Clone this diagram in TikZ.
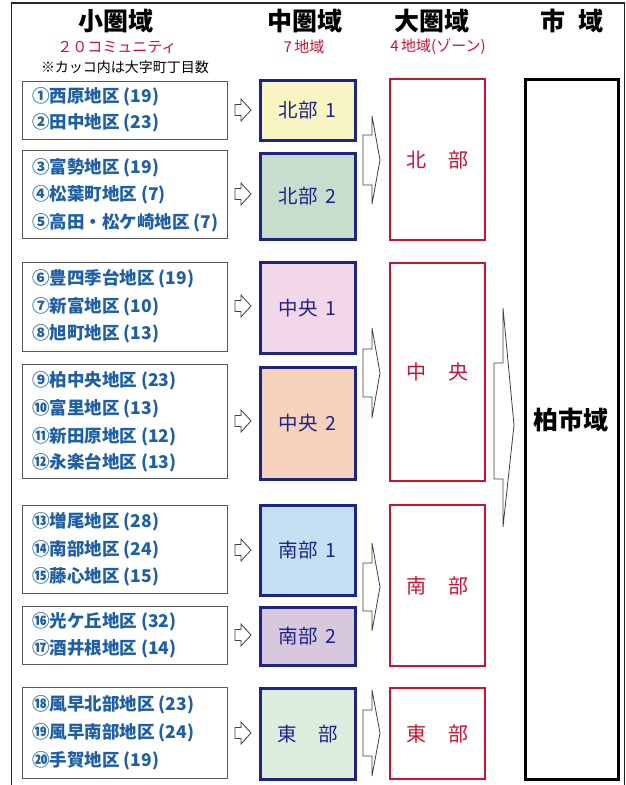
\documentclass[tikz,border=0pt]{standalone}
\usepackage{fontspec}
\setmainfont{Noto Sans CJK JP}
\definecolor{itemblue}{RGB}{30,95,165}
\definecolor{navy}{RGB}{30,35,135}
\definecolor{zred}{RGB}{200,20,50}
\definecolor{fy}{RGB}{248,245,195}
\definecolor{fg}{RGB}{200,222,205}
\definecolor{fp}{RGB}{242,215,232}
\definecolor{fo}{RGB}{246,210,188}
\definecolor{fb}{RGB}{195,225,242}
\definecolor{fl}{RGB}{215,200,222}
\definecolor{fe}{RGB}{222,238,222}
\tikzset{
  lbox/.style={draw=black!65, line width=0.9pt, anchor=north west, minimum width=205pt, inner sep=0pt},
  mbox/.style={draw=navy, line width=2.6pt, anchor=north west, minimum width=95pt, inner sep=0pt,
     text=navy, font=\fontsize{19.5}{22}\selectfont},
  bbox/.style={draw=zred, line width=2.4pt, anchor=north west, minimum width=95pt, inner sep=0pt,
     text=zred, font=\fontsize{20}{23}\selectfont},
  item/.style={anchor=west, inner sep=0pt, text=itemblue, font=\fontsize{17.5}{20}\selectfont\bfseries},
  head/.style={inner sep=0pt, font=\fontsize{25}{28}\selectfont\bfseries},
  sub/.style={inner sep=0pt, text=zred, font=\fontsize{15}{18}\selectfont},
  harrow/.style={draw=black!75, line width=0.8pt, fill=white},
}
\newcommand\smallarr[1]{\draw[harrow] (235,#1-5.5) -- (241,#1-5.5) -- (241,#1-11) -- (251,#1) -- (241,#1+11) -- (241,#1+5.5) -- (235,#1+5.5) -- cycle;}
% #1 center y, #2 shaft half, #3 head half
\newcommand\midarr[3]{\draw[harrow] (363,#1-#2) -- (372,#1-#2) -- (372,#1-#3) -- (380,#1) -- (372,#1+#3) -- (372,#1+#2) -- (363,#1+#2) -- cycle;}
\begin{document}
\begin{tikzpicture}[x=1pt,y=-1pt]
\useasboundingbox (0,0) rectangle (626,785);
% outer frame
\draw[line width=1.3pt, black!85] (11.5,786) -- (11.5,3) -- (624.5,3) -- (624.5,786);
% headers
\node[head] (h1) at (116,21) {小圏域};
\node[head] (h2) at (305,21) {中圏域};
\node[head] (h3) at (432,21) {大圏域};
\node[head] (h4) at (572,21) {市\hspace{0.5em}域};
\node[sub] (s1) at (117,47) {２０コミュニティ};
\node[sub] (s2) at (304,47) {7\,地域};
\node[sub] (s3) at (438,47) {4\,地域(ゾーン)};
\node[inner sep=0pt, font=\fontsize{14}{16}\selectfont] (note) at (125,67) {※カッコ内は大字町丁目数};
% left boxes
\node[lbox, minimum height=58pt] (L1) at (22,81) {};
\node[lbox, minimum height=88pt] (L2) at (22,150) {};
\node[lbox, minimum height=89pt] (L3) at (22,262) {};
\node[lbox, minimum height=114pt] (L4) at (22,364) {};
\node[lbox, minimum height=88pt] (L5) at (22,505) {};
\node[lbox, minimum height=58pt] (L6) at (22,606) {};
\node[lbox, minimum height=91pt] (L7) at (22,687) {};
% items
\node[item] (i1) at (32,97) {①西原地区 (19)};
\node[item] (i2) at (32,123) {②田中地区 (23)};
\node[item] (i3) at (32,168) {③富勢地区 (19)};
\node[item] (i4) at (32,195) {④松葉町地区 (7)};
\node[item] (i5) at (32,223) {⑤高田・松ケ崎地区 (7)};
\node[item] (i6) at (32,279) {⑥豊四季台地区 (19)};
\node[item] (i7) at (32,307) {⑦新富地区 (10)};
\node[item] (i8) at (32,334) {⑧旭町地区 (13)};
\node[item] (i9) at (32,381) {⑨柏中央地区 (23)};
\node[item] (i10) at (32,409) {⑩富里地区 (13)};
\node[item] (i11) at (32,437) {⑪新田原地区 (12)};
\node[item] (i12) at (32,463) {⑫永楽台地区 (13)};
\node[item] (i13) at (32,522) {⑬増尾地区 (28)};
\node[item] (i14) at (32,550) {⑭南部地区 (24)};
\node[item] (i15) at (32,577) {⑮藤心地区 (15)};
\node[item] (i16) at (32,622) {⑯光ケ丘地区 (32)};
\node[item] (i17) at (32,649) {⑰酒井根地区 (14)};
\node[item] (i18) at (32,705) {⑱風早北部地区 (23)};
\node[item] (i19) at (32,733) {⑲風早南部地区 (24)};
\node[item] (i20) at (32,761) {⑳手賀地区 (19)};
% small arrows
\smallarr{110}
\smallarr{194}
\smallarr{306}
\smallarr{421}
\smallarr{550}
\smallarr{635}
\smallarr{733}
% medium boxes
\node[mbox, fill=fy, minimum height=60pt] (M1) at (259,79) {北部\hspace{0.4em}1};
\node[mbox, fill=fg, minimum height=86pt] (M2) at (259,152) {北部\hspace{0.4em}2};
\node[mbox, fill=fp, minimum height=91pt] (M3) at (259,261) {中央\hspace{0.4em}1};
\node[mbox, fill=fo, minimum height=112pt] (M4) at (259,366) {中央\hspace{0.4em}2};
\node[mbox, fill=fb, minimum height=90pt] (M5) at (259,504) {南部\hspace{0.4em}1};
\node[mbox, fill=fl, minimum height=58pt] (M6) at (259,606) {南部\hspace{0.4em}2};
\node[mbox, fill=fe, minimum height=91pt] (M7) at (259,687) {東\hspace{1.1em}部};
% medium -> big arrows
\midarr{160}{25}{44}
\midarr{373}{24}{45}
\midarr{587}{24}{44}
\midarr{733}{23}{43}
% big boxes
\node[bbox, minimum height=161pt] (B1) at (389,78) {北\hspace{1.1em}部};
\node[bbox, minimum height=218pt] (B2) at (389,262) {中\hspace{1.1em}央};
\node[bbox, minimum height=161pt] (B3) at (389,504) {南\hspace{1.1em}部};
\node[bbox, minimum height=91pt] (B4) at (389,687) {東\hspace{1.1em}部};
% big arrow
\draw[harrow] (494,363) -- (503,363) -- (503,308) -- (514,425) -- (503,527) -- (503,479) -- (494,479) -- cycle;
% city box
\node[draw=black, line width=3pt, anchor=north west, minimum width=93pt, minimum height=700pt, inner sep=0pt] (C) at (524,78) {};
\node[inner sep=0pt, font=\fontsize{25}{28}\selectfont\bfseries] (Ct) at (571,420) {柏市域};
\end{tikzpicture}
\end{document}
